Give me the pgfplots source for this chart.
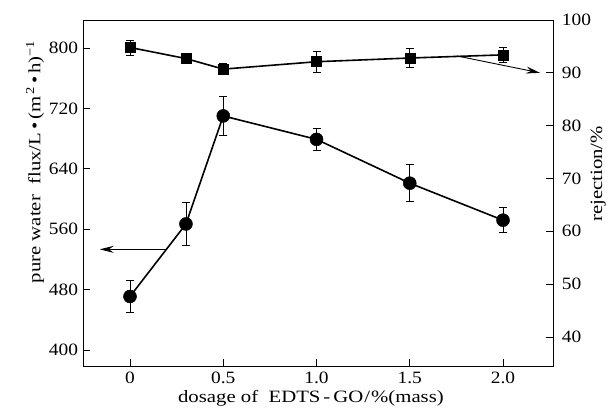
\documentclass[border=0pt]{standalone}
\usepackage{fontspec}
\setmainfont{Liberation Serif}[FakeStretch=1.2]
\newfontfamily\tickfont{Liberation Serif}[FakeStretch=1.12]
\usepackage{pgfplots}
\usepackage{pgfplotstable}
\pgfplotsset{compat=1.18}
\usetikzlibrary{arrows.meta}

\pgfplotstableread{
x y ey
0   471 21.5
0.3 567 28
0.5 710 26
1.0 679 14.5
1.5 621 24.5
2.0 572 16.5
}\fluxdata

\pgfplotstableread{
x y ey
0   94.8 1.4
0.3 92.7 1.0
0.5 90.7 1.0
1.0 92.1 2.0
1.5 92.8 1.8
2.0 93.4 1.5
}\rejdata

\begin{document}
\fontsize{17.3}{20}\selectfont
\begin{tikzpicture}
\path[use as bounding box] (-83pt,-53pt) rectangle (527pt,366pt);
\pgfplotsset{
  common/.style={
    scale only axis, width=470pt, height=346pt,
    xmin=-0.252, xmax=2.268,
    tick align=inside, major tick length=7pt,
    tick style={black, line width=0.7pt},
    axis line style={line width=0.9pt},
    ticklabel style={font=\tickfont\fontsize{17.3}{20}\selectfont},
    label style={font=\fontsize{17.3}{20}\selectfont},
    /pgf/number format/assume math mode=true,
  },
}
\begin{axis}[common,
  ymin=379, ymax=837,
  xtick={0,0.5,1,1.5,2}, xticklabels={0,0.5,1.0,1.5,2.0},
  ytick={400,480,...,800},
  xtick pos=bottom, ytick pos=left,
  xticklabel style={yshift=0pt},
  yticklabel style={xshift=1pt},
  xlabel={dosage of~ EDTS\kern3pt-\kern3pt GO\kern1pt/\kern1pt\%(mass)},
  xlabel style={at={(axis description cs:0.485,-0.094)}, anchor=center},
  ylabel={pure water~ flux/L\,•\,(m\textsuperscript{\,2}\,•\,h)\textsuperscript{−1}},
  ylabel style={at={(axis description cs:-0.102,0.59)}, anchor=center},
]
\addplot[black, line width=1.6pt, mark=*, mark size=6.5pt, mark options={solid, line width=0.5pt},
  error bars/.cd, y dir=both, y explicit,
  error bar style={line width=0.7pt, black},
  error mark options={rotate=90, mark size=4pt, line width=0.7pt, black}]
  table[x=x, y=y, y error=ey] {\fluxdata};
\draw[line width=0.9pt, -{Stealth[length=14pt, width=7pt, inset=5pt]}] (axis cs:0.193,533.4) -- (axis cs:-0.162,533.4);
\end{axis}
\begin{axis}[common,
  ymin=34.5, ymax=100,
  axis y line*=right, axis x line=none,
  ytick={40,50,...,100},
  yticklabel style={xshift=3pt},
  ylabel={rejection/\%},
  ylabel style={at={(axis description cs:1.096,0.555)}, anchor=center},
]
\addplot[black, line width=1.6pt, mark=square*, mark size=5pt, mark options={solid, line width=0.5pt},
  error bars/.cd, y dir=both, y explicit,
  error bar style={line width=0.7pt, black},
  error mark options={rotate=90, mark size=4pt, line width=0.7pt, black}]
  table[x=x, y=y, y error=ey] {\rejdata};
\draw[line width=0.9pt, -{Stealth[length=14pt, width=7pt, inset=5pt]}] (axis cs:1.752,93.2) -- (axis cs:2.198,90.0);
\end{axis}
\end{tikzpicture}
\end{document}
